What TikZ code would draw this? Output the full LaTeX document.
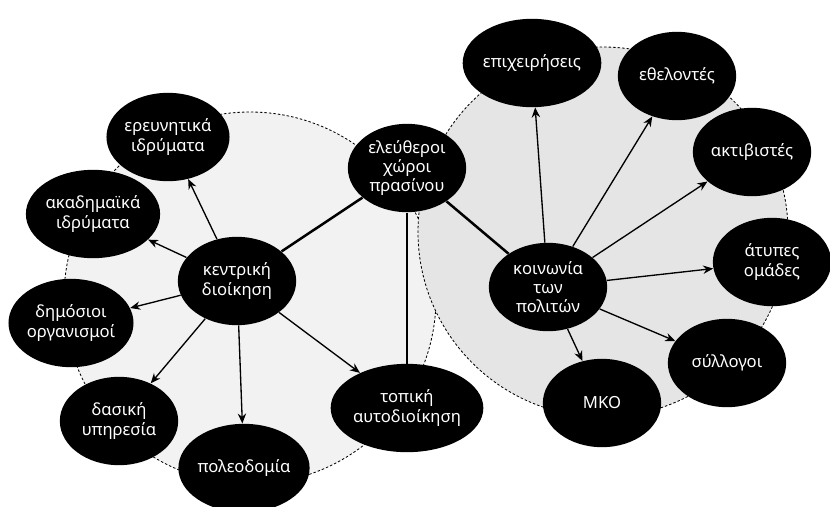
\documentclass[tikz,border=0pt]{standalone}
\usepackage{fontspec}
\setmainfont{Noto Sans}
\usetikzlibrary{shapes.geometric, arrows.meta}

\begin{document}
\begin{tikzpicture}[x=0.6pt, y=-0.6pt, align=center,
  font=\fontsize{10}{11.5}\selectfont,
  actor/.style={ellipse, fill=black, text=white, minimum width=71pt, minimum height=53pt, inner sep=0pt},
  zone/.style={dash pattern=on 1.5pt off 1.2pt, line width=0.5pt},
  link/.style={line width=1.5pt},
  >={Stealth[length=6pt, width=5pt]}]

\useasboundingbox (0,0) rectangle (830,506);

% the two areas
\draw [zone, fill=black!5] (250,298) circle [radius=186];
\draw [zone, fill=black!10] (603,232) circle [radius=185];

\node [actor] (eleuth) at (407, 168) {ελεύθεροι\\χώροι\\πρασίνου};
\node [actor] (kentr) at (237, 281) {κεντρική\\διοίκηση};
\node [actor] (topik) at (407, 408) {τοπική\\αυτοδιοίκηση};
\node [actor] (koin) at (548, 287) {κοινωνία\\των\\πολιτών};

\node [actor] (ereun) at (168, 137) {ερευνητικά\\ιδρύματα};
\node [actor] (akad) at (93, 214) {ακαδημαϊκά\\ιδρύματα};
\node [actor] (dimos) at (71, 323) {δημόσιοι\\οργανισμοί};
\node [actor] (dasik) at (119, 421) {δασική\\υπηρεσία};
\node [actor] (poleod) at (244, 468) {πολεοδομία};

\node [actor] (epix) at (532, 63) {επιχειρήσεις};
\node [actor] (ethel) at (677, 76) {εθελοντές};
\node [actor] (aktiv) at (752, 152) {ακτιβιστές};
\node [actor] (atyp) at (772, 262) {άτυπες\\ομάδες};
\node [actor] (syll) at (727, 363) {σύλλογοι};
\node [actor] (mko) at (602, 403) {ΜΚΟ};

\draw [link] (eleuth) -- (kentr);
\draw [link] (eleuth) -- (topik);
\draw [link] (eleuth) -- (koin);

\draw [->, thick] (kentr) -- (ereun);
\draw [->, thick] (kentr) -- (akad);
\draw [->, thick] (kentr) -- (dimos);
\draw [->, thick] (kentr) -- (dasik);
\draw [->, thick] (kentr) -- (poleod);
\draw [->, thick] (kentr) -- (topik);

\draw [->, thick] (koin) -- (epix);
\draw [->, thick] (koin) -- (ethel);
\draw [->, thick] (koin) -- (aktiv);
\draw [->, thick] (koin) -- (atyp);
\draw [->, thick] (koin) -- (syll);
\draw [->, thick] (koin) -- (mko);

\end{tikzpicture}
\end{document}
